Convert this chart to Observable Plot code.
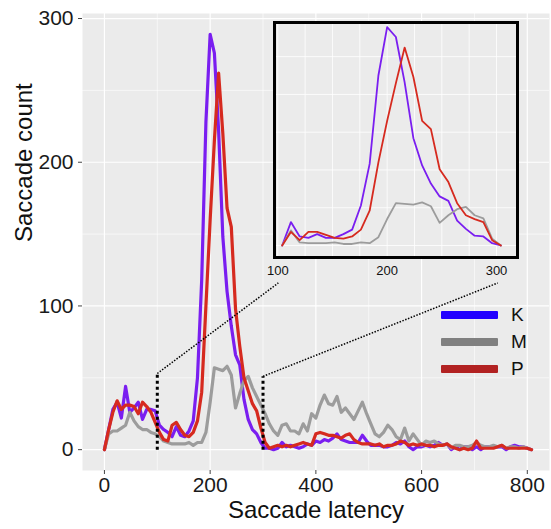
<!DOCTYPE html>
<html>
<head>
<meta charset="utf-8">
<script src="https://cdn.jsdelivr.net/npm/d3@7"></script>
<script src="https://cdn.jsdelivr.net/npm/@observablehq/plot@0.6"></script>
<style>
  body { margin: 0; background: #fff; }
  #wrap { position: relative; width: 551px; height: 529px; font-family: "Liberation Sans", Arial, sans-serif; }
  #main { position: absolute; left: 0; top: 0; }
  #inset { position: absolute; left: 257px; top: 20px; }
  .key { position: absolute; height: 8px; border-radius: 1px; }
  .lab { position: absolute; font-size: 19px; color: #111; line-height: 20px; }
</style>
</head>
<body>
<div id="wrap">
  <div id="main"></div>
  <div id="inset"></div>
</div>
<script>
// ---- data (bin centres in ms, counts per bin) ----
const latency = [0,8,16,24,32,40,48,56,64,72,80,88,96,104,112,120,128,136,144,152,160,168,176,184,192,200,208,216,224,232,240,248,256,264,272,280,288,296,304,312,320,328,336,344,352,360,368,376,384,392,400,408,416,424,432,440,448,456,464,472,480,488,496,504,512,520,528,536,544,552,560,568,576,584,592,600,608,616,624,632,640,648,656,664,672,680,688,696,704,712,720,728,736,744,752,760,768,776,784,792,800,808];
const countK = [0,14,28,33,22,44,26,29,33,21, 28,28,27,17,14,12,9,16,10,9, 13,20,50,118,228,289,276,222,148,110, 86,66,59,35,21,14,11,5,1,1, 0,1,5,2,3,2,1,2,4,3, 6,5,7,6,8,11,7,6,5,5, 5,10,6,3,3,3,2,2,3,5, 4,6,2,0,2,2,3,2,3,5, 3,4,0,2,0,2,2,0,2,0, 2,2,2,2,2,0,2,3,2,2, 1,0];
const countM = [0,11,13,13,15,17,26,20,16,14, 14,12,11,9,6,5,4,4,4,4, 5,3,5,5,12,33,57,56,55,58, 52,29,39,48,51,43,37,31,25,18, 13,10,17,18,13,13,11,18,13,25, 22,31,38,32,31,37,26,29,25,21, 27,33,25,18,11,9,12,17,14,9, 7,15,6,11,7,3,6,5,6,4, 3,4,1,3,3,2,2,3,5,3, 2,2,3,2,3,1,2,2,1,2, 1,0];
const countP = [0,14,26,34,28,31,31,30,25,33, 30,26,19,12,7,6,17,19,14,10, 9,12,20,40,100,160,215,262,220,168, 155,98,72,50,41,32,27,15,5,1, 2,3,2,3,2,3,4,5,4,3, 11,12,11,10,10,9,8,10,11,7, 5,4,4,4,3,4,2,3,3,4, 6,5,3,4,3,4,3,3,2,3, 3,4,2,1,0,1,0,1,6,1, 1,1,1,2,3,1,1,1,1,1, 1,0];

// inset (zoom on 100–300 ms)
const insetLatency = [104,112,120,128,136,144,152,160,168,176,184,192,200,208,216,224,232,240,248,256,264,272,280,288,296,304];
const insetK = [0,31,12,10,15,10,10,15,21,53,108,225,289,276,216,142,106,82,65,59,33,22,13,12,3,0];
const insetM = [0,20,4,3,3,3,4,2,2,4,3,11,35,56,55,54,57,52,30,40,48,51,40,36,9,0];
const insetP = [0,18,7,18,18,14,10,9,12,21,46,110,165,215,262,223,165,154,101,84,56,40,35,31,7,0];

// ticks
const xTicks = [0,200,400,600,800];
const xMinor = [100,300,500,700];
const yTicks = [0,100,200,300];
const yMinor = [50,150,250];
const insetTicks = [100,200,300];
const insetGridX = [100,125,150,175,200,225,250,275,300];
const insetGridY = [0,50,100,150,200,250];

// zoom connectors (data units of the main plot)
const zoomEdges = [100, 300];
const zoomEdgeTop = [53, 51];
const zoomLinkEnd = [[329,116],[744,116]];

// series
const groups = ["K","M","P"];
const lineColors = ["#7a1ef0","#9c9c9c","#d62a1f"];
const keyColors = ["#2200ff","#808080","#b22222"];

const rows = latency.map((x,i) => ({x, K: countK[i], M: countM[i], P: countP[i]}));
const insetRows = insetLatency.map((x,i) => ({x, K: insetK[i], M: insetM[i], P: insetP[i]}));
const edges = zoomEdges.map((x,i) => ({x, top: zoomEdgeTop[i]}));
const links = zoomEdges.map((x,i) => ({x1: x, y1: zoomEdgeTop[i], x2: zoomLinkEnd[i][0], y2: zoomLinkEnd[i][1]}));

const font = "Liberation Sans, Arial, sans-serif";

const main = Plot.plot({
  width: 551, height: 529,
  marginLeft: 82, marginRight: 2, marginTop: 13, marginBottom: 59,
  x: {domain: [-41.5, 842]},
  y: {domain: [-14.5, 303.5]},
  style: {fontFamily: font, fontSize: "21px", color: "#1a1a1a", background: "white"},
  marks: [
    Plot.frame({fill: "#EBEBEB"}),
    Plot.ruleX(xMinor, {stroke: "white", strokeWidth: 0.6}),
    Plot.ruleY(yMinor, {stroke: "white", strokeWidth: 0.6}),
    Plot.ruleX(xTicks, {stroke: "white", strokeWidth: 1.2}),
    Plot.ruleY(yTicks, {stroke: "white", strokeWidth: 1.2}),
    Plot.axisX({ticks: xTicks, tickSize: 4, tickPadding: 3, label: null, fontSize: 21, stroke: "#444"}),
    Plot.axisY({ticks: yTicks, tickSize: 4, tickPadding: 5, label: null, fontSize: 21, stroke: "#444"}),
    ...groups.map((g,i) => Plot.line(rows, {x: "x", y: g, stroke: lineColors[i], strokeWidth: 3.2, strokeLinejoin: "round"})),
    Plot.link(edges, {x1: "x", y1: 0, x2: "x", y2: "top", stroke: "black", strokeWidth: 3, strokeDasharray: "3,3"}),
    Plot.link(links, {x1: "x1", y1: "y1", x2: "x2", y2: "y2", stroke: "black", strokeWidth: 1.5, strokeDasharray: "1.5,1.5"}),
    Plot.text(["Saccade latency"], {text: d => d, frameAnchor: "bottom", dy: 47, fontSize: 24, fill: "#111"}),
    Plot.text(["Saccade count"], {text: d => d, frameAnchor: "left", dx: -58, rotate: -90, fontSize: 24, fill: "#111"})
  ]
});
document.getElementById("main").append(main);

const inset = Plot.plot({
  width: 277, height: 267,
  marginLeft: 17, marginRight: 17, marginTop: 2, marginBottom: 30,
  x: {domain: [97, 319.2]},
  y: {domain: [-15.9, 295.2], axis: null},
  style: {fontFamily: font, fontSize: "13px", color: "#111", background: "transparent"},
  marks: [
    Plot.frame({fill: "#EBEBEB"}),
    Plot.ruleX(insetGridX, {stroke: "white", strokeWidth: 0.8}),
    Plot.ruleY(insetGridY, {stroke: "white", strokeWidth: 0.8}),
    Plot.axisX({ticks: insetTicks, tickSize: 0, tickPadding: 8, label: null, fontSize: 13}),
    ...groups.map((g,i) => Plot.line(insetRows, {x: "x", y: g, stroke: lineColors[i], strokeWidth: 1.8, strokeLinejoin: "round"})),
    Plot.frame({stroke: "black", strokeWidth: 3})
  ]
});
document.getElementById("inset").append(inset);

// legend
const wrap = document.getElementById("wrap");
groups.forEach((g,i) => {
  const cy = 315 + i * 27;
  const key = document.createElement("div");
  key.className = "key";
  key.style.left = "441px"; key.style.width = "57px";
  key.style.top = (cy - 4) + "px";
  key.style.background = keyColors[i];
  wrap.append(key);
  const lab = document.createElement("div");
  lab.className = "lab";
  lab.style.left = "511px"; lab.style.top = (cy - 10) + "px";
  lab.textContent = g;
  wrap.append(lab);
});
</script>
</body>
</html>
